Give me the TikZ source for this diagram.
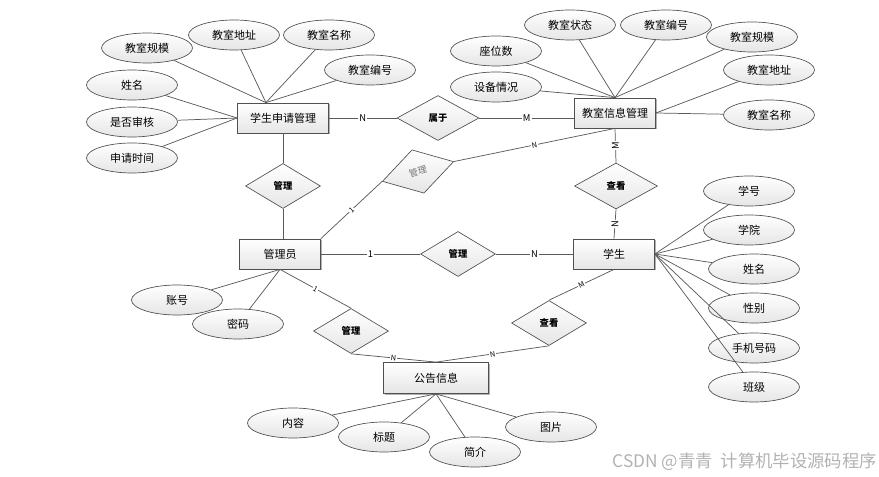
\documentclass[tikz,border=0pt]{standalone}
\usepackage{fontspec}
\setmainfont{Noto Sans CJK SC}
\usetikzlibrary{shapes.geometric,shadows}
\definecolor{lncol}{HTML}{5A5A5A}
\definecolor{bdcol}{HTML}{505050}
\begin{document}
\begin{tikzpicture}[x=0.75pt,y=-0.75pt,
  ent/.style={rectangle, draw=bdcol, line width=0.6pt, top color=white, bottom color=black!10,
    minimum width=60.75pt, minimum height=22.5pt, inner sep=1pt,
    font=\fontsize{8.25pt}{10pt}\selectfont,
    drop shadow={shadow xshift=1.1pt, shadow yshift=-1.1pt, fill=black!30, opacity=1}},
  attr/.style={ellipse, draw=bdcol, line width=0.5pt, top color=white, bottom color=black!10,
    minimum width=68.25pt, minimum height=22.5pt, inner sep=0pt,
    font=\fontsize{8.25pt}{10pt}\selectfont},
  rel/.style={diamond, draw=bdcol, line width=0.5pt, top color=white, bottom color=black!10,
    minimum width=56.25pt, minimum height=33.75pt, inner sep=0pt,
    font=\fontsize{7pt}{8pt}\selectfont\bfseries},
  ln/.style={draw=lncol, line width=0.55pt},
  lbl/.style={fill=white, inner sep=0.8pt, font=\fontsize{7pt}{8pt}\selectfont},
  slbl/.style={fill=white, inner sep=0.6pt, font=\fontsize{5.5pt}{6pt}\selectfont, sloped}
]
\useasboundingbox (0,0) rectangle (879,477);

% entities
\node[ent, minimum width=68.25pt] (sa) at (283,118) {学生申请管理};
\node[ent] (ci) at (615,113) {教室信息管理};
\node[ent] (gly) at (280,254) {管理员};
\node[ent] (xs) at (614,254) {学生};
\node[ent, minimum width=78.75pt, minimum height=23.25pt] (gg) at (436,378) {公告信息};

% relationships
\node[rel] (r1) at (283,186) {管理};
\node[rel, minimum width=61.5pt] (r2) at (438,118) {属于};
\node[rel, rotate=15.5, minimum width=55.5pt, font=\fontsize{6.75pt}{8pt}\selectfont, text=black!55] (r3) at (418,171.5) {管理};
\node[rel, minimum width=62.25pt, minimum height=34.5pt] (r4) at (616,186) {查看};
\node[rel] (r5) at (458,254) {管理};
\node[rel] (r6) at (351,331) {管理};
\node[rel] (r7) at (549,323) {查看};

% attributes of 学生申请管理
\node[attr] (a1) at (147,48) {教室规模};
\node[attr] (a2) at (234,35) {教室地址};
\node[attr] (a3) at (329,35) {教室名称};
\node[attr] (a4) at (370,70) {教室编号};
\node[attr] (a5) at (132,85) {姓名};
\node[attr] (a6) at (132,122) {是否审核};
\node[attr] (a7) at (132,158) {申请时间};

% attributes of 教室信息管理
\node[attr] (b1) at (496,51) {座位数};
\node[attr] (b2) at (496,87) {设备情况};
\node[attr] (b3) at (570,25) {教室状态};
\node[attr] (b4) at (666,25) {教室编号};
\node[attr] (b5) at (752,37) {教室规模};
\node[attr] (b6) at (769,70) {教室地址};
\node[attr] (b7) at (769,115) {教室名称};

% attributes of 管理员
\node[attr] (c1) at (177,300) {账号};
\node[attr] (c2) at (238,324) {密码};

% attributes of 学生
\node[attr] (d1) at (749,191) {学号};
\node[attr] (d2) at (749,230) {学院};
\node[attr] (d3) at (754,269) {姓名};
\node[attr] (d4) at (754,308) {性别};
\node[attr] (d5) at (754,348) {手机号码};
\node[attr] (d6) at (754,387) {班级};

% attributes of 公告信息
\node[attr] (e1) at (293,423) {内容};
\node[attr] (e2) at (384,437) {标题};
\node[attr] (e3) at (475,452) {简介};
\node[attr] (e4) at (551,427) {图片};

% attribute connectors
\foreach \n in {a1,a2,a3,a4} \draw[ln] (\n) -- (sa.138);
\foreach \n in {a5,a6,a7} \draw[ln] (\n) -- (sa.west);
\foreach \n in {b1,b2,b3,b4,b5} \draw[ln] (\n) -- (ci.north);
\foreach \n in {b6,b7} \draw[ln] (\n) -- (ci.east);
\foreach \n in {c1,c2} \draw[ln] (\n) -- (gly.south);
\foreach \n in {d1,d2,d3,d4,d5,d6} \draw[ln] (\n) -- (xs.east);
\foreach \n in {e1,e2,e3,e4} \draw[ln] (\n) -- (gg.south);

% relationship connectors
\draw[ln] (sa.east) -- node[lbl]{N} (r2.west);
\draw[ln] (r2.east) -- node[lbl]{M} (r2.east -| ci.west);
\draw[ln] (ci.south) -- node[lbl, rotate=90]{M} (r4.north);
\draw[ln] (r4.south) -- node[lbl, rotate=90]{N} (xs.north);
\draw[ln] (sa.south) -- (r1.north);
\draw[ln] (r1.south) -- (r1.south |- gly.north);
\draw[ln] (gly.east) -- node[lbl]{1} (r5.west);
\draw[ln] (r5.east) -- node[lbl]{N} (xs.west);
\draw[ln] (gly.north east) -- node[slbl]{1} (r3.west);
\draw[ln] (r3.east) -- node[slbl]{N} (ci.south);
\draw[ln] (gly.south) -- node[slbl]{1} (r6.north);
\draw[ln] (r6.south) -- node[slbl]{N} (gg.north);
\draw[ln] (xs.south) -- node[slbl]{M} (r7.north);
\draw[ln] (r7.south) -- node[slbl]{N} (gg.north);

% watermark
\node[anchor=east, text=black!30, font=\fontsize{13pt}{15pt}\selectfont, inner sep=0pt] (wm) at (877,462) {CSDN @青青\ \ 计算机毕设源码程序};
\end{tikzpicture}
\end{document}
